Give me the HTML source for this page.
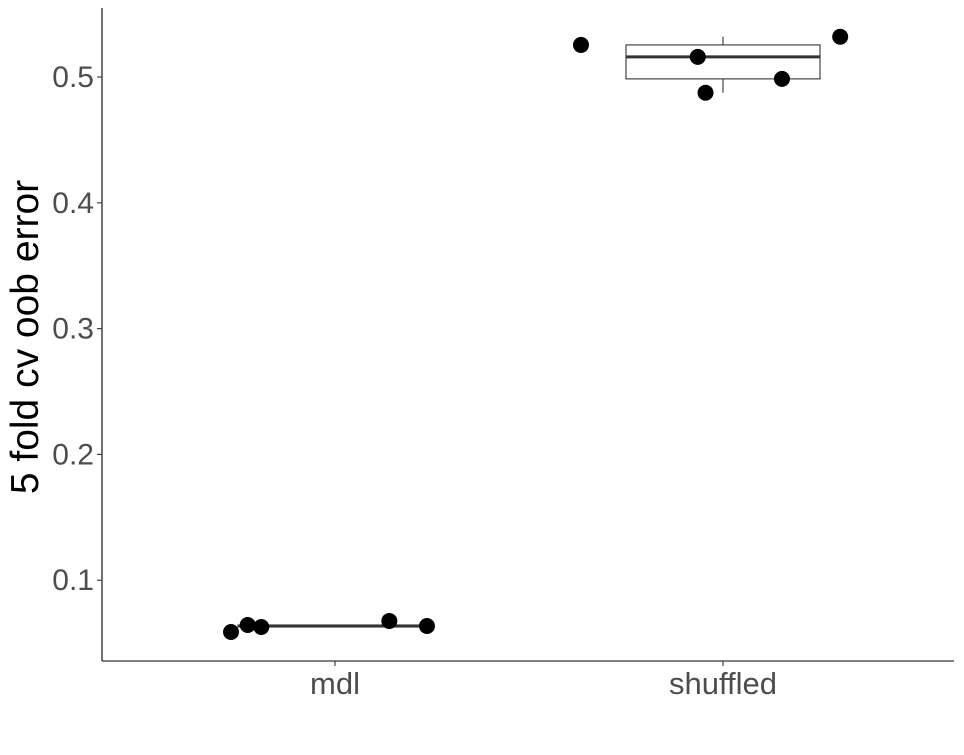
<!DOCTYPE html>
<html><head><meta charset="utf-8"><style>
body{margin:0;background:#fff}
svg text{font-family:"Liberation Sans",sans-serif}
</style></head><body>
<svg id="chart" width="964" height="750" xmlns="http://www.w3.org/2000/svg"></svg>
<script>
const categories = ["mdl", "shuffled"];
const mdlValues = [0.0588, 0.0644, 0.0628, 0.0676, 0.0636];
const mdlJitter = [-0.268, -0.225, -0.19, 0.14, 0.237];
const shuffledValues = [0.5255, 0.516, 0.4875, 0.4985, 0.532];
const shuffledJitter = [-0.366, -0.065, -0.045, 0.152, 0.302];
const yTicks = [0.1, 0.2, 0.3, 0.4, 0.5];
const yTickLabels = ["0.1", "0.2", "0.3", "0.4", "0.5"];

const NS = "http://www.w3.org/2000/svg";
const svg = document.getElementById("chart");
const L = 102, R = 954, T = 8, B = 661;
const y = v => 706 - v * 1258;
const catX = i => 335 + i * 388;
const band = 388;
function mk(tag, attrs, parent) {
  const e = document.createElementNS(NS, tag);
  for (const k in attrs) e.setAttribute(k, attrs[k]);
  (parent || svg).appendChild(e);
  return e;
}
function q(arr, p) {
  const s = [...arr].sort((a, b) => a - b);
  const h = (s.length - 1) * p, lo = Math.floor(h);
  return s[lo] + (h - lo) * ((s[lo + 1] ?? s[lo]) - s[lo]);
}
let ax = mk("line", {x1: L, y1: T, x2: L, y2: B, stroke: "#000", "stroke-width": 1.1});


ax = mk("line", {x1: L, y1: B, x2: R, y2: B, stroke: "#000", "stroke-width": 1.1});


yTicks.forEach((v, i) => {
  const t = mk("line", {x1: L - 5, x2: L, y1: y(v), y2: y(v), stroke: "#333", "stroke-width": 1.1});
  
  
  const tx = mk("text", {x: L - 8, y: y(v) + 10, "text-anchor": "end", "font-size": 30, fill: "#4d4d4d"});
  tx.textContent = yTickLabels[i];
  
  
});
categories.forEach((c, i) => {
  const t = mk("line", {x1: catX(i), x2: catX(i), y1: B, y2: B + 5, stroke: "#333", "stroke-width": 1.1});
  
  
  const tx = mk("text", {x: catX(i), y: 694, "text-anchor": "middle", "font-size": 31, fill: "#4d4d4d"});
  tx.textContent = c;
  
  
});
const yt = mk("text", {x: 0, y: 0, transform: "translate(38,337) rotate(-90)", "text-anchor": "middle", "font-size": 39, fill: "#000"});
yt.textContent = "5 fold cv oob error";



[[mdlValues, mdlJitter], [shuffledValues, shuffledJitter]].forEach(([vals, jit], i) => {
  const q1 = q(vals, .25), md = q(vals, .5), q3 = q(vals, .75), iqr = q3 - q1;
  const inr = vals.filter(v => v >= q1 - 1.5 * iqr && v <= q3 + 1.5 * iqr);
  const lo = Math.min(...inr), hi = Math.max(...inr);
  const cx = catX(i), hw = band * 0.25;
  const g = mk("g", {});
  
  
  mk("line", {x1: cx, x2: cx, y1: y(hi), y2: y(q3), stroke: "#333", "stroke-width": 1.1}, g);
  mk("line", {x1: cx, x2: cx, y1: y(q1), y2: y(lo), stroke: "#333", "stroke-width": 1.1}, g);
  mk("rect", {x: cx - hw, y: y(q3), width: 2 * hw, height: Math.max(y(q1) - y(q3), 0.5), fill: "#fff", stroke: "#333", "stroke-width": 1.1}, g);
  mk("line", {x1: cx - hw, x2: cx + hw, y1: y(md), y2: y(md), stroke: "#333", "stroke-width": 3}, g);
  vals.forEach((v, j) => {
    const p = mk("circle", {cx: cx + jit[j] * band, cy: y(v), r: 8, fill: "#000"});
    
    
  });
});
</script>
</body></html>
